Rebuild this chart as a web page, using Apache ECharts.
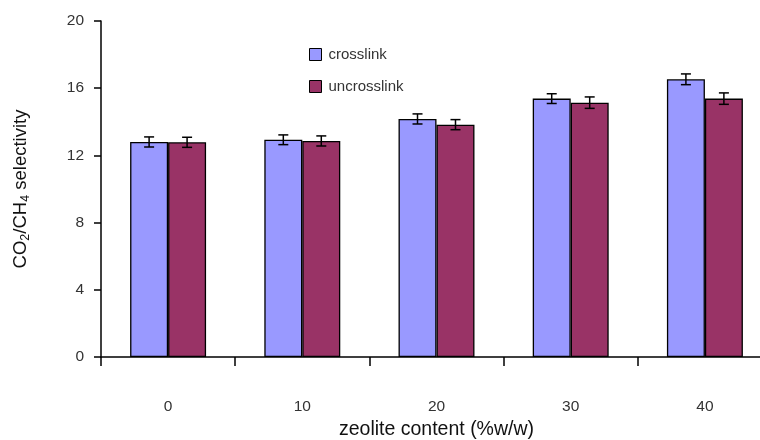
<!DOCTYPE html>
<html><head><meta charset="utf-8">
<script src="https://cdn.jsdelivr.net/npm/echarts@6/dist/echarts.min.js"></script>
<style>html,body{margin:0;padding:0;background:#fff}#c{width:760px;height:440px}</style>
</head><body><div id="c"></div>
<script>
const categories = ['0', '10', '20', '30', '40'];
const crosslink = [12.8, 12.93, 14.17, 15.38, 16.53];
const crosslinkErr = [0.3, 0.29, 0.3, 0.29, 0.32];
const uncrosslink = [12.78, 12.86, 13.83, 15.14, 15.38];
const uncrosslinkErr = [0.3, 0.3, 0.3, 0.34, 0.34];
const yTicks = [0, 4, 8, 12, 16, 20];

const FONT = 'Liberation Sans, Arial, sans-serif';
const BAR_RATIO = 0.283;
function errSeries(vals, errs, side) {
  return {
    type: 'custom',
    silent: true,
    z: 10,
    data: vals.map((v, i) => [i, v, errs[i]]),
    encode: { x: 0, y: 1 },
    renderItem: function (params, api) {
      const i = api.value(0), v = api.value(1), e = api.value(2);
      const band = api.size([1, 0])[0];
      const bw = band * BAR_RATIO;
      const c = api.coord([i, v]);
      const x = c[0] + side * bw / 2;
      const yTop = api.coord([i, v + e])[1];
      const yBot = api.coord([i, v - e])[1];
      const cap = 5;
      const st = { stroke: '#000', lineWidth: 1.5 };
      return {
        type: 'group',
        children: [
          { type: 'line', shape: { x1: x, y1: yTop, x2: x, y2: yBot }, style: st },
          { type: 'line', shape: { x1: x - cap, y1: yTop, x2: x + cap, y2: yTop }, style: st },
          { type: 'line', shape: { x1: x - cap, y1: yBot, x2: x + cap, y2: yBot }, style: st }
        ]
      };
    }
  };
}

const chart = echarts.init(document.getElementById('c'), null, { renderer: 'canvas' });
chart.setOption({
  animation: false,
  textStyle: { fontFamily: FONT },
  grid: { left: 101, top: 21, width: 671, height: 336, outerBoundsMode: 'none', containLabel: false },
  legend: {
    orient: 'vertical', left: 304, top: 42, itemGap: 17,
    itemWidth: 12, itemHeight: 12,
    textStyle: { fontSize: 15, color: '#333', padding: [0, 0, 0, 2], fontFamily: FONT },
    data: [
      { name: 'crosslink', icon: 'rect', itemStyle: { borderColor: '#000', borderWidth: 1 } },
      { name: 'uncrosslink', icon: 'rect', itemStyle: { borderColor: '#000', borderWidth: 1 } }
    ]
  },
  xAxis: {
    type: 'category', data: categories,
    name: 'zeolite content (%w/w)', nameLocation: 'middle', nameGap: 63,
    nameTextStyle: { fontSize: 19.5, color: '#111', fontFamily: FONT },
    axisLine: { lineStyle: { color: '#000', width: 1.5 } },
    axisTick: { show: true, length: 9, inside: false, lineStyle: { color: '#000', width: 1.5 } },
    axisLabel: { margin: 42, fontSize: 15.5, color: '#333', fontFamily: FONT },
    splitLine: { show: false }
  },
  yAxis: {
    type: 'value', min: yTicks[0], max: yTicks[yTicks.length - 1], interval: 4,
    name: '{a|CO}{s|2}{a|/CH}{s|4}{a| selectivity}', nameLocation: 'middle', nameGap: 69,
    nameRotate: 90,
    nameTextStyle: {
      color: '#111',
      rich: {
        a: { fontSize: 18.5, color: '#111', fontFamily: FONT },
        s: { fontSize: 12.5, color: '#111', padding: [10, 0, 0, 0], fontFamily: FONT }
      }
    },
    axisLine: { show: true, lineStyle: { color: '#000', width: 1.5 } },
    axisTick: { show: true, length: 7, lineStyle: { color: '#000', width: 1.5 } },
    axisLabel: { margin: 17, fontSize: 15.5, color: '#333', fontFamily: FONT },
    splitLine: { show: false }
  },
  series: [
    {
      name: 'crosslink', type: 'bar', data: crosslink,
      barWidth: (BAR_RATIO * 100) + '%', barGap: '0%',
      itemStyle: { color: '#9999FF', borderColor: '#000', borderWidth: 1.3 }
    },
    {
      name: 'uncrosslink', type: 'bar', data: uncrosslink,
      barWidth: (BAR_RATIO * 100) + '%', barGap: '0%',
      itemStyle: { color: '#993366', borderColor: '#000', borderWidth: 1.3 }
    },
    errSeries(crosslink, crosslinkErr, -1),
    errSeries(uncrosslink, uncrosslinkErr, 1)
  ]
});
</script></body></html>
